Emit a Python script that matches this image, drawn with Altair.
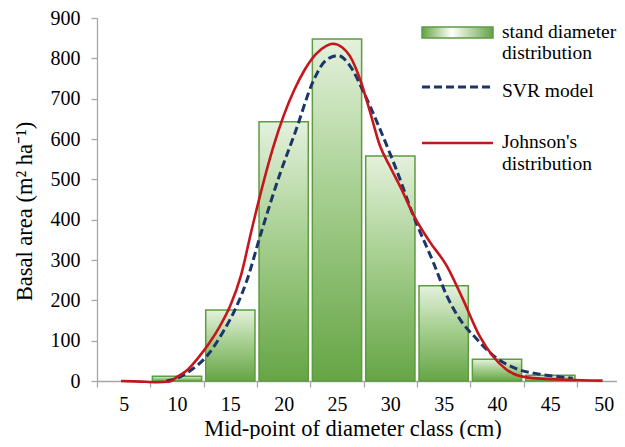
import altair as alt
import pandas as pd

# ---- data ----
classes = [5, 10, 15, 20, 25, 30, 35, 40, 45, 50]
basal_area = [0, 12, 176, 643, 848, 558, 236, 54, 14, 0]

johnson_x = [4.75, 6.0, 7.0, 8.2, 9.2, 10.0, 11.0, 12.0, 13.0, 14.0, 15.0, 16.0,
             17.0, 18.0, 19.0, 20.0, 21.0, 22.0, 23.0, 24.0, 24.6, 25.5, 26.2,
             27.2, 28.1, 29.0, 30.0, 31.0, 32.2, 33.7, 35.3, 36.8, 38.4, 39.6,
             40.9, 42.8, 46.5, 49.9]
johnson_y = [0, -1, -2, -3, -2, 10, 28, 58, 93, 135, 187, 262,
             375, 482, 578, 658, 722, 773, 810, 831, 836, 827, 806,
             745, 667, 585, 530, 478, 410, 345, 285, 203, 110, 62,
             28, 9, 3, 1]

svr_x = [9.0, 10.0, 11.2, 12.8, 14.3, 15.6, 16.6, 17.8, 19.7, 21.1, 22.8, 24.0,
         25.1, 26.2, 27.5, 28.7, 30.0, 30.6, 32.2, 34.0, 35.3, 36.5, 38.1,
         39.65, 41.85, 44.0, 45.6, 47.1]
svr_y = [0, 7, 25, 62, 121, 186, 253, 360, 517, 618, 745, 796,
         807, 782, 716, 645, 562, 522, 407, 296, 211, 154, 104,
         63, 30, 17, 11, 7]

y_ticks = [0, 100, 200, 300, 400, 500, 600, 700, 800, 900]
legend_labels = ["stand diameter\ndistribution", "SVR model", "Johnson's\ndistribution"]

# ---- tables ----
half = 2.31
bars = pd.DataFrame({"mid": classes, "ba": basal_area})
bars = bars[bars["ba"] > 0].copy()
bars["lo"] = bars["mid"] - half
bars["hi"] = bars["mid"] + half

johnson = pd.DataFrame({"d": johnson_x, "ba": johnson_y})
svr = pd.DataFrame({"d": svr_x, "ba": svr_y})

FONT = "Liberation Serif"
AXIS_GRAY = "#a6a6a6"
GREEN_EDGE = "#5e9b42"
NAVY = "#1b3668"
RED = "#c4161c"

xscale = alt.Scale(domain=[2.5, 51.25], nice=False, zero=False)
yscale = alt.Scale(domain=[0, 900], nice=False, zero=True)

yaxis = alt.Axis(values=y_ticks, grid=False, tickSize=6, labelPadding=11,
                 labelFont=FONT, labelFontSize=20, labelColor="black",
                 labelBaseline="middle",
                 domainColor=AXIS_GRAY, tickColor=AXIS_GRAY, domainWidth=1.3, tickWidth=1.3,
                 title="Basal area (m² ha⁻¹)", titleFont=FONT, titleFontSize=22.5,
                 titleFontWeight="normal", titleColor="black",
                 titleX=-66, titleY=193, titleAngle=270, titleBaseline="alphabetic",
                 titleAlign="center")

boundaries = [c - 2.5 for c in classes]
xaxis_ticks = alt.Axis(values=boundaries, labels=False, title=None, grid=False,
                       tickSize=6, domainColor=AXIS_GRAY, tickColor=AXIS_GRAY,
                       domainWidth=1.3, tickWidth=1.3, orient="bottom")
xaxis_labels = alt.Axis(values=classes, ticks=False, tickSize=0, domain=False, grid=False,
                        labelPadding=29, labelBaseline="alphabetic", labelFont=FONT,
                        labelFontSize=20, labelColor="black", labelOverlap=False,
                        labelFlush=False,
                        title="Mid-point of diameter class (cm)", titleFont=FONT,
                        titleFontSize=22.5, titleFontWeight="normal", titleColor="black",
                        titleX=255.5, titleY=54, titleBaseline="alphabetic",
                        titleAlign="center", orient="bottom")

bar_fill = alt.Gradient(gradient="linear", x1=0, x2=0, y1=0, y2=1,
                        stops=[alt.GradientStop(color="#e4f1dc", offset=0),
                               alt.GradientStop(color="#a6cf90", offset=0.45),
                               alt.GradientStop(color="#66a545", offset=1)])

bar_layer = alt.Chart(bars).mark_rect(fill=bar_fill, stroke=GREEN_EDGE, strokeWidth=1.5).encode(
    x=alt.X("lo:Q", scale=xscale, axis=xaxis_ticks),
    x2="hi:Q",
    y=alt.Y("ba:Q", scale=yscale, axis=yaxis),
    y2=alt.datum(0),
)

svr_layer = alt.Chart(svr).mark_line(color=NAVY, strokeWidth=3, strokeDash=[8, 4],
                                     interpolate="monotone").encode(
    x=alt.X("d:Q", scale=xscale, axis=None),
    y=alt.Y("ba:Q", scale=yscale, axis=yaxis),
    order="d:Q",
)

johnson_layer = alt.Chart(johnson).mark_line(color=RED, strokeWidth=2.6,
                                             interpolate="monotone").encode(
    x=alt.X("d:Q", scale=xscale, axis=xaxis_labels),
    y=alt.Y("ba:Q", scale=yscale, axis=yaxis),
    order="d:Q",
)

# ---- legend (drawn by hand, in pixel offsets from the plot origin) ----
leg_fill = alt.Gradient(gradient="linear", x1=0, x2=1, y1=0, y2=0,
                        stops=[alt.GradientStop(color="#63a343", offset=0),
                               alt.GradientStop(color="#ffffff", offset=0.42),
                               alt.GradientStop(color="#63a343", offset=1)])

one = pd.DataFrame({"k": [0]})
leg_patch = alt.Chart(one).mark_rect(fill=leg_fill, stroke=GREEN_EDGE, strokeWidth=1.5).encode(
    x=alt.value(325), x2=alt.value(396), y=alt.value(9), y2=alt.value(20))
leg_svr = alt.Chart(one).mark_rule(color=NAVY, strokeWidth=3, strokeDash=[8, 4]).encode(
    x=alt.value(325), x2=alt.value(396), y=alt.value(69))
leg_john = alt.Chart(one).mark_rule(color=RED, strokeWidth=2.6).encode(
    x=alt.value(325), x2=alt.value(396), y=alt.value(125))

def leg_text(label, ypos):
    return alt.Chart(pd.DataFrame({"t": [label]})).mark_text(
        align="left", baseline="alphabetic", font=FONT, fontSize=19.5,
        color="black", lineBreak="\n", lineHeight=21.6).encode(
        x=alt.value(405), y=alt.value(ypos), text="t:N")

leg_t1 = leg_text(legend_labels[0], 19.7)
leg_t2 = leg_text(legend_labels[1], 78.7)
leg_t3 = leg_text(legend_labels[2], 130.3)

chart = alt.layer(
    bar_layer, svr_layer, johnson_layer,
    leg_patch, leg_svr, leg_john, leg_t1, leg_t2, leg_t3
).resolve_axis(x="independent").properties(
    width=520, height=363,
    autosize=alt.AutoSizeParams(type="none"),
    padding={"left": 89, "top": 10, "right": 0, "bottom": 58},
    background="white",
).configure_view(stroke=None)

chart.save("out.html", embed_options={"renderer": "svg", "actions": False})
